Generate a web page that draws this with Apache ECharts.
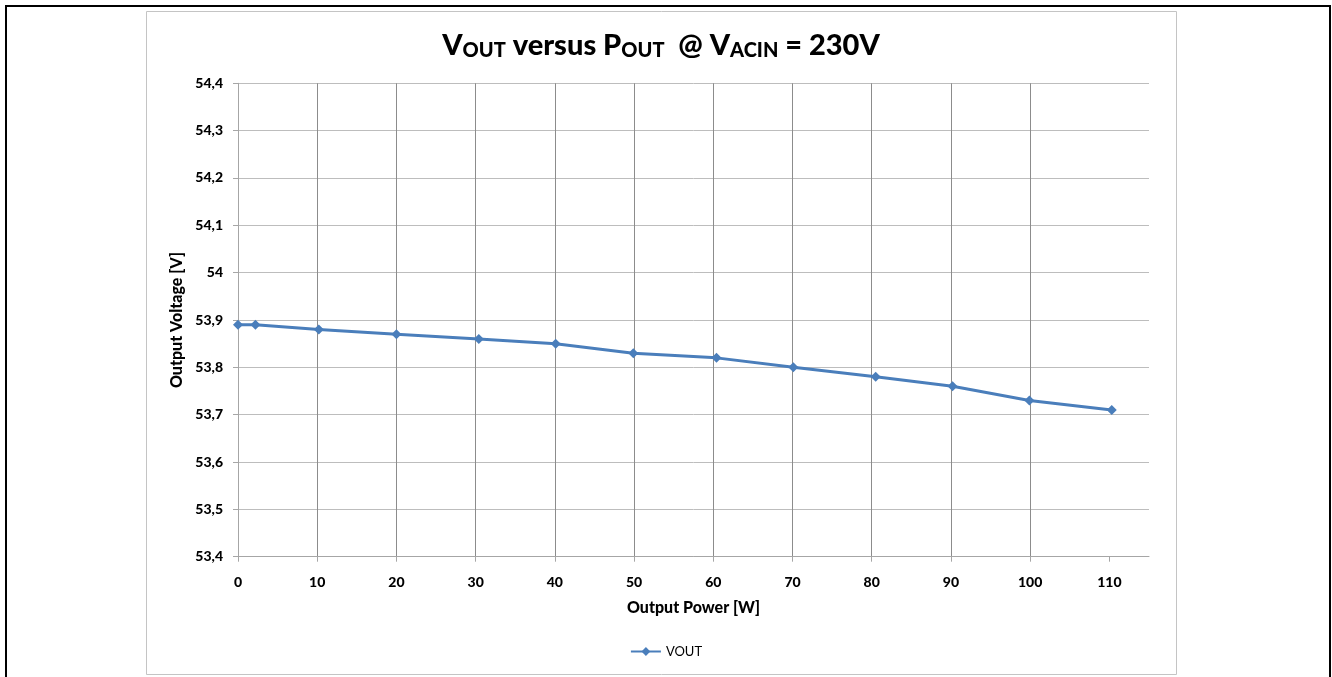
<!DOCTYPE html>
<html><head><meta charset="utf-8">
<script src="https://cdn.jsdelivr.net/npm/echarts@6/dist/echarts.min.js"></script>
<style>html,body{margin:0;padding:0;background:#fff}#c{width:1332px;height:677px}</style>
</head><body><div id="c"></div>
<script>
// Data
const powerW = [0, 2.2, 10.2, 20, 30.4, 40.1, 49.9, 60.4, 70.1, 80.5, 90.2, 99.9, 110.3];
const voutV  = [53.89, 53.89, 53.88, 53.87, 53.86, 53.85, 53.83, 53.82, 53.80, 53.78, 53.76, 53.73, 53.71];
const xTicks = [0, 10, 20, 30, 40, 50, 60, 70, 80, 90, 100, 110];
const seriesName = 'VOUT';
const xName = 'Output Power [W]';
const yName = 'Output Voltage [V]';

const FONT = 'Lato';
const chart = echarts.init(document.getElementById('c'), null, {renderer: 'canvas'});
const points = powerW.map((p, i) => [p, voutV[i]]);

chart.setOption({
  backgroundColor: '#fff',
  animation: false,
  textStyle: {fontFamily: FONT},
  graphic: [
    {type: 'rect', shape: {x: 6, y: 6, width: 1324, height: 700}, style: {fill: null, stroke: '#000', lineWidth: 2}, silent: true, z: -10},
    {type: 'rect', shape: {x: 146.5, y: 11.5, width: 1030, height: 663}, style: {fill: null, stroke: '#c4c4c4', lineWidth: 1}, silent: true, z: -10},
    {type: 'text', x: 661, y: 46, style: {
      text: '{b|V}{s|OUT}{b| versus P}{s|OUT}{b|  @ V}{s|ACIN}{b| = 230V}',
      align: 'center', verticalAlign: 'middle',
      rich: {
        b: {fontFamily: FONT, fontWeight: 900, fontSize: 29, fill: '#000', verticalAlign: 'bottom'},
        s: {fontFamily: FONT, fontWeight: 900, fontSize: 20, fill: '#000', verticalAlign: 'bottom'}
      }
    }}
  ],
  grid: {left: 238, top: 83.3, right: 183, bottom: 120.3, containLabel: false},
  legend: {
    data: [seriesName], bottom: 14, left: 'center',
    itemWidth: 30, itemHeight: 11, itemGap: 4,
    textStyle: {fontFamily: FONT, fontSize: 13, color: '#000'}
  },
  xAxis: {
    type: 'value', min: 0, max: 115, interval: 10,
    name: xName, nameLocation: 'middle', nameGap: 43,
    nameTextStyle: {fontFamily: FONT, fontWeight: 900, fontSize: 16, color: '#000'},
    axisLine: {show: true, lineStyle: {color: '#a6a6a6', width: 1}},
    axisTick: {show: true, length: 5, inside: false, lineStyle: {color: '#a6a6a6'}, customValues: xTicks},
    axisLabel: {fontFamily: FONT, fontWeight: 900, fontSize: 14, color: '#000', margin: 19, customValues: xTicks},
    splitLine: {show: true, showMaxLine: false, lineStyle: {color: '#8c8c8c', width: 1}}
  },
  yAxis: {
    type: 'value', min: 53.4, max: 54.4, interval: 0.1,
    name: yName, nameLocation: 'middle', nameGap: 53, nameRotate: 90,
    nameTextStyle: {fontFamily: FONT, fontWeight: 900, fontSize: 16, color: '#000'},
    axisLine: {show: true, lineStyle: {color: '#a6a6a6', width: 1}},
    axisTick: {show: true, length: 5, inside: false, lineStyle: {color: '#a6a6a6'}},
    axisLabel: {fontFamily: FONT, fontWeight: 900, fontSize: 14, color: '#000', margin: 15,
      formatter: v => String(Math.round(v * 10) / 10).replace('.', ',')},
    splitLine: {show: true, lineStyle: {color: '#bdbdbd', width: 1}}
  },
  series: [{
    name: seriesName, type: 'line', data: points,
    symbol: 'diamond', symbolSize: 10,
    lineStyle: {color: '#4a7ebb', width: 3},
    itemStyle: {color: '#4a7ebb'}
  }]
});
</script></body></html>
